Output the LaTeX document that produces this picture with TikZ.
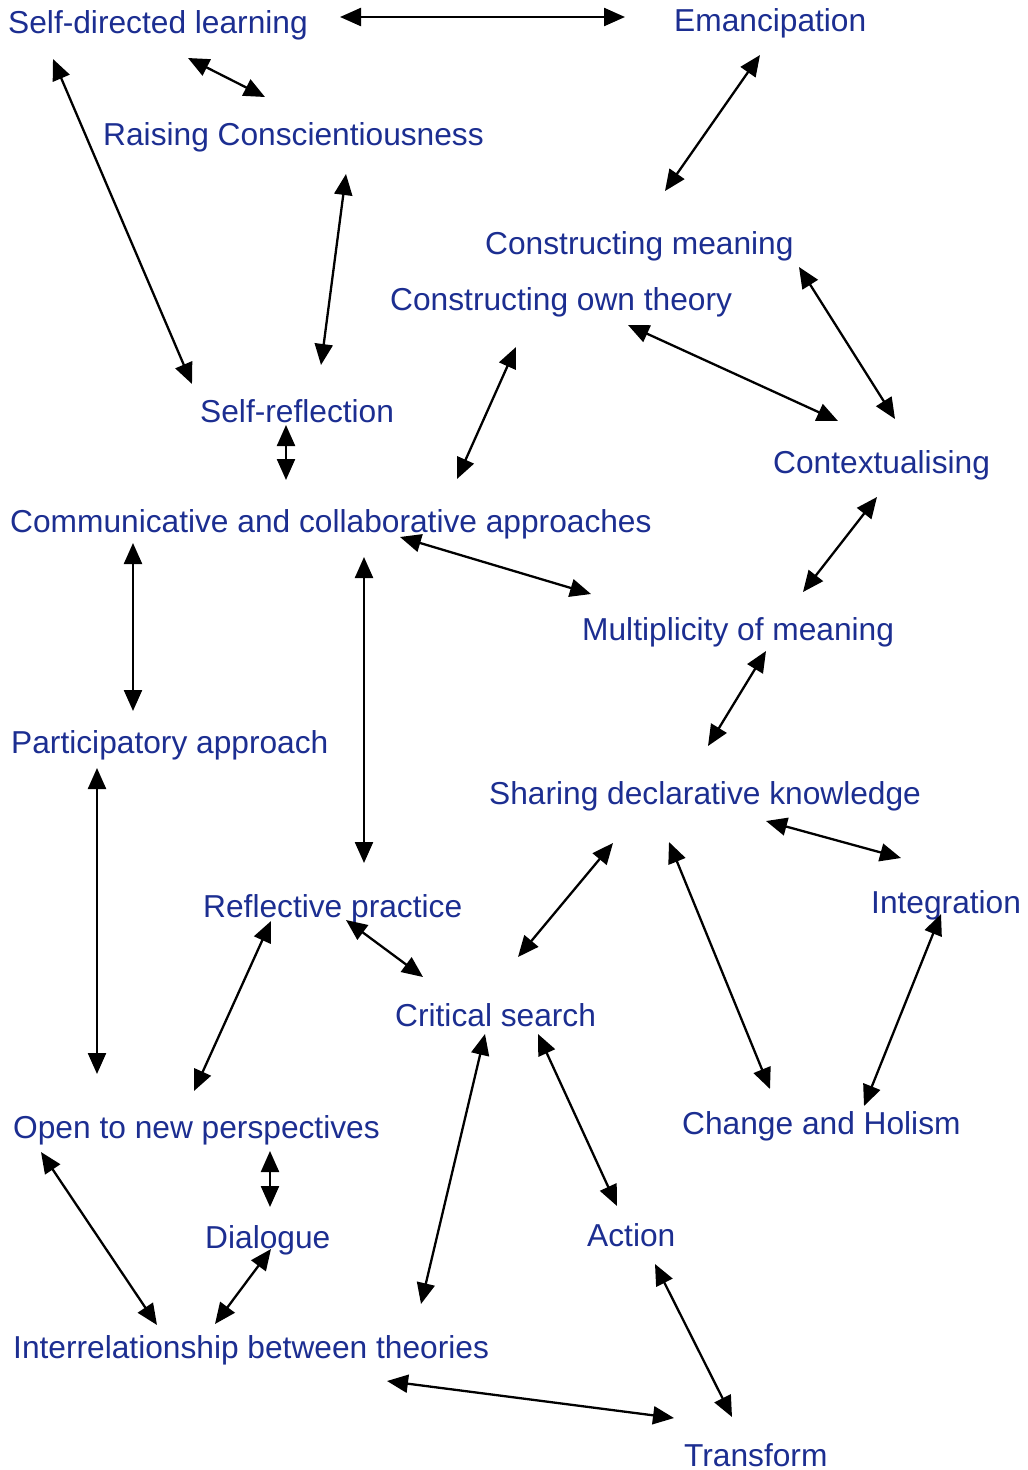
\documentclass[tikz,border=0pt]{standalone}
\usepackage{fontspec}
\setmainfont{Liberation Sans}
\usetikzlibrary{arrows.meta}
\definecolor{labelblue}{RGB}{28,46,145}
\begin{document}
\begin{tikzpicture}[x=1pt,y=-1pt,
  concept/.style={anchor=base west,inner sep=0pt,text=labelblue,
    font=\fontsize{31.7}{31.7}\selectfont},
  link/.style={line width=2.3pt,
    {Triangle[length=21pt,width=18pt]}-{Triangle[length=21pt,width=18pt]}}]
\useasboundingbox[fill=white] (0,0) rectangle (1028,1470);

% concepts
\node[concept] (sdl)    at (8,33)     {Self-directed learning};
\node[concept] (eman)   at (674,31)   {Emancipation};
\node[concept] (raise)  at (103,145)  {Raising Conscientiousness};
\node[concept] (cmean)  at (485,254)  {Constructing meaning};
\node[concept] (cown)   at (390,310)  {Constructing own theory};
\node[concept] (sref)   at (200,422)  {Self-reflection};
\node[concept] (ctx)    at (773,473)  {Contextualising};
\node[concept] (comm)   at (10,532)   {Communicative and collaborative approaches};
\node[concept] (mult)   at (582,640)  {Multiplicity of meaning};
\node[concept] (part)   at (11,753)   {Participatory approach};
\node[concept] (share)  at (489,804)  {Sharing declarative knowledge};
\node[concept] (integ)  at (871,913)  {Integration};
\node[concept] (refl)   at (203,917)  {Reflective practice};
\node[concept] (crit)   at (395,1026) {Critical search};
\node[concept] (open)   at (13,1138)  {Open to new perspectives};
\node[concept] (change) at (682,1134) {Change and Holism};
\node[concept] (dial)   at (205,1248) {Dialogue};
\node[concept] (action) at (587,1246) {Action};
\node[concept] (inter)  at (13,1358)  {Interrelationship between theories};
\node[concept] (trans)  at (684,1466) {Transform};

% arrow ends
\coordinate (sdl-eman-a)    at (340,17);   \coordinate (sdl-eman-b)    at (625,17);
\coordinate (sdl-raise-a)   at (188,58);   \coordinate (sdl-raise-b)   at (265,97);
\coordinate (sdl-sref-a)    at (53,59);    \coordinate (sdl-sref-b)    at (192,384);
\coordinate (eman-cmean-a)  at (760,55);   \coordinate (eman-cmean-b)  at (665,191);
\coordinate (raise-sref-a)  at (346,174);  \coordinate (raise-sref-b)  at (321,365);
\coordinate (cmean-ctx-a)   at (799,267);  \coordinate (cmean-ctx-b)   at (895,419);
\coordinate (cown-ctx-a)    at (628,325);  \coordinate (cown-ctx-b)    at (838,421);
\coordinate (cown-comm-a)   at (516,347);  \coordinate (cown-comm-b)   at (457,479);
\coordinate (sref-comm-a)   at (286,425);  \coordinate (sref-comm-b)   at (286,480);
\coordinate (ctx-mult-a)    at (877,497);  \coordinate (ctx-mult-b)    at (803,592);
\coordinate (comm-mult-a)   at (400,537);  \coordinate (comm-mult-b)   at (591,594);
\coordinate (comm-part-a)   at (133,543);  \coordinate (comm-part-b)   at (133,711);
\coordinate (comm-refl-a)   at (364,557);  \coordinate (comm-refl-b)   at (364,863);
\coordinate (mult-share-a)  at (766,651);  \coordinate (mult-share-b)  at (708,746);
\coordinate (part-open-a)   at (97,768);   \coordinate (part-open-b)   at (97,1074);
\coordinate (share-integ-a) at (766,821);  \coordinate (share-integ-b) at (901,858);
\coordinate (share-crit-a)  at (613,843);  \coordinate (share-crit-b)  at (518,957);
\coordinate (share-chg-a)   at (669,842);  \coordinate (share-chg-b)   at (770,1089);
\coordinate (integ-chg-a)   at (941,914);  \coordinate (integ-chg-b)   at (864,1106);
\coordinate (refl-crit-a)   at (346,920);  \coordinate (refl-crit-b)   at (423,977);
\coordinate (refl-open-a)   at (271,921);  \coordinate (refl-open-b)   at (194,1091);
\coordinate (crit-inter-a)  at (485,1034); \coordinate (crit-inter-b)  at (421,1304);
\coordinate (crit-act-a)    at (538,1034); \coordinate (crit-act-b)    at (617,1206);
\coordinate (open-dial-a)   at (270,1151); \coordinate (open-dial-b)   at (270,1207);
\coordinate (open-inter-a)  at (41,1152);  \coordinate (open-inter-b)  at (157,1325);
\coordinate (dial-inter-a)  at (271,1249); \coordinate (dial-inter-b)  at (215,1324);
\coordinate (act-trans-a)   at (655,1264); \coordinate (act-trans-b)   at (732,1417);
\coordinate (inter-trans-a) at (387,1381); \coordinate (inter-trans-b) at (674,1418);

% two-way links
\foreach \l in {sdl-eman,sdl-raise,sdl-sref,eman-cmean,raise-sref,cmean-ctx,
  cown-ctx,cown-comm,sref-comm,ctx-mult,comm-mult,comm-part,comm-refl,
  mult-share,part-open,share-integ,share-crit,share-chg,integ-chg,refl-crit,
  refl-open,crit-inter,crit-act,open-dial,open-inter,dial-inter,act-trans,
  inter-trans}
  \draw[link] (\l-a) -- (\l-b);
\end{tikzpicture}
\end{document}
